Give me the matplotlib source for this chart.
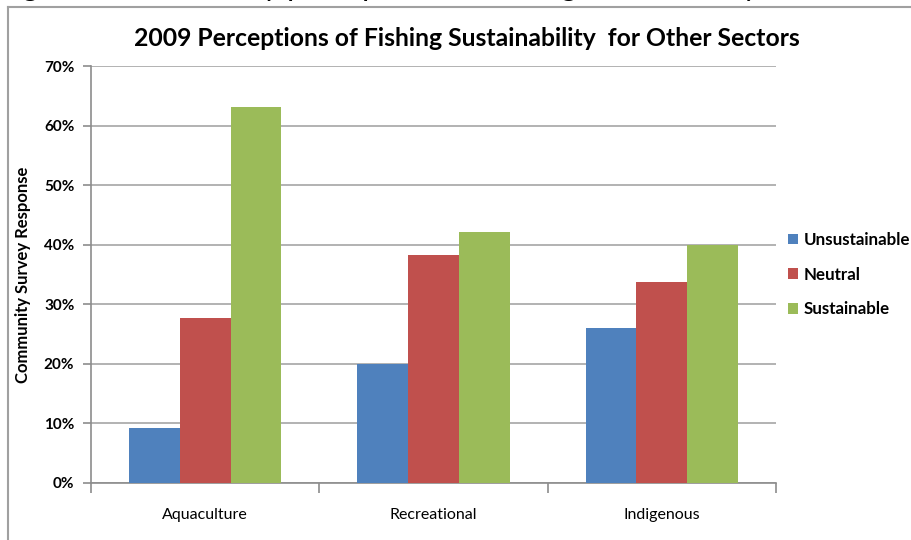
import matplotlib.pyplot as plt
from matplotlib.lines import Line2D
from matplotlib.ticker import MultipleLocator, PercentFormatter
import numpy as np

plt.rcParams['font.family'] = ['Lato', 'DejaVu Sans']

sectors = ['Aquaculture', 'Recreational', 'Indigenous']
unsustainable = [9.2, 20.0, 26.1]
neutral = [27.7, 38.2, 33.7]
sustainable = [63.1, 42.1, 40.0]

series = [
    ('Unsustainable', unsustainable, '#4F81BD'),
    ('Neutral', neutral, '#C0504D'),
    ('Sustainable', sustainable, '#9BBB59'),
]

W, H = 912, 540
fig = plt.figure(figsize=(W / 100, H / 100), dpi=100)
ax = fig.add_axes([91 / W, 1 - 483 / H, (776 - 91) / W, (483 - 66) / H])

# gap width 150% like the spreadsheet default
x = np.arange(len(sectors))
bw = 1 / 4.5
for i, (name, vals, col) in enumerate(series):
    ax.bar(x + (i - 1) * bw, vals, bw, color=col, label=name, zorder=3)

ax.set_xlim(-0.5, len(sectors) - 0.5)
ax.set_ylim(0, 70)
ax.yaxis.set_major_locator(MultipleLocator(10))
ax.yaxis.set_major_formatter(PercentFormatter(decimals=0))
ax.grid(axis='y', color='#a6a6a6', linewidth=1.2, zorder=0)

grey = '#8c8c8c'
for side in ['top', 'right']:
    ax.spines[side].set_visible(False)
for side in ['left', 'bottom']:
    ax.spines[side].set_color(grey)
    ax.spines[side].set_linewidth(1.2)

ax.set_xticks(x)
ax.set_xticklabels(sectors, fontsize=11.5)
ax.tick_params(axis='x', length=0, pad=18)
ax.set_xticks(np.arange(len(sectors) + 1) - 0.5, minor=True)
ax.tick_params(axis='x', which='minor', length=7, color=grey, width=1.2)
ax.tick_params(axis='y', length=6, color=grey, width=1.2, labelsize=11, pad=6)
for lab in ax.get_yticklabels():
    lab.set_fontweight('bold')

ax.set_ylabel('Community Survey Response', fontsize=12, fontweight='bold', labelpad=9)

fig.text(467 / W, 1 - 39 / H, '2009 Perceptions of Fishing Sustainability  for Other Sectors',
         ha='center', va='center', fontsize=17.8, fontweight='bold')

ax.legend(loc='center left', bbox_to_anchor=(0.995, 0.5), frameon=False,
          prop={'weight': 'bold', 'size': 12.2},
          handlelength=0.6, handleheight=0.6, handletextpad=0.35, labelspacing=1.1)

# chart frame
fig.add_artist(Line2D([8.5 / W, 8.5 / W], [0, 1 - 7 / H], color='#a0a0a0', lw=1.5))
fig.add_artist(Line2D([8 / W, 1], [1 - 7 / H, 1 - 7 / H], color='#a0a0a0', lw=1.5))

# caption of the page above, cut by the frame edge
fig.text(-2 / W, 1 + 4 / H, 'Figure 5: Community perceptions of fishing sustainability',
         ha='left', va='baseline', fontsize=22)

fig.savefig('out.png', dpi=100)
